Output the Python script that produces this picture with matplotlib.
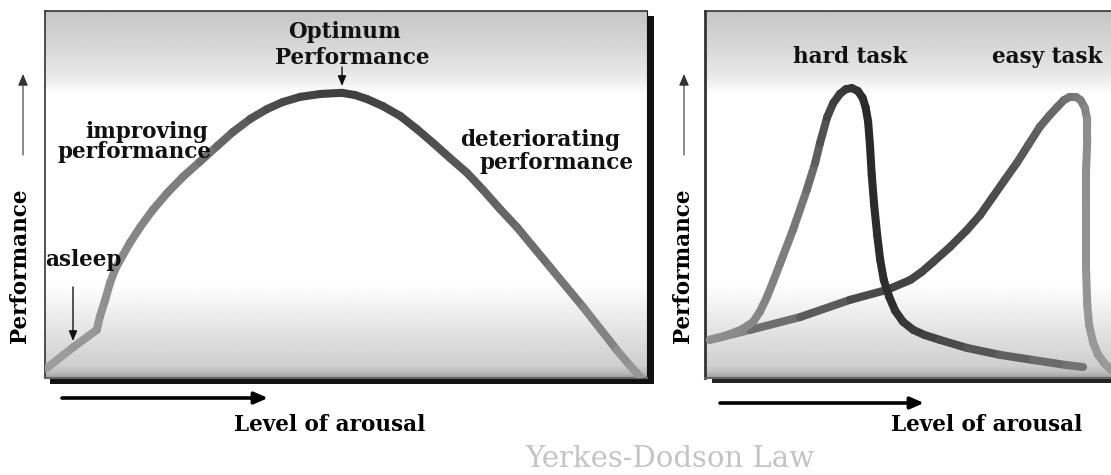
import numpy as np
import matplotlib.pyplot as plt
from matplotlib.collections import LineCollection
from matplotlib.patches import Rectangle, FancyArrowPatch

W, H = 1111, 475

# left panel: inverted-U (arousal 0-100 vs performance 0-100)
inv_u_x = [0.3, 4.7, 8.6, 9.1, 10.0, 10.8, 11.6, 12.5, 14.1, 15.8, 17.9, 20.3, 22.9,
           25.7, 28.6, 31.2, 34.1, 36.9, 39.5, 42.4, 45.8, 49.3, 51.5, 53.5, 56.1,
           59.0, 61.8, 64.5, 67.3, 70.1, 72.8, 75.6, 78.4, 83.9, 89.4, 95.0, 97.1, 98.8]
inv_u_y = [2.7, 8.4, 13.1, 16.6, 21.3, 25.9, 29.4, 32.2, 36.8, 41.1, 45.8, 50.4, 54.8,
           58.9, 63.2, 67.0, 70.6, 73.3, 75.2, 76.6, 77.4, 77.7, 77.1, 76.0, 74.1,
           71.4, 67.8, 64.0, 59.9, 55.9, 51.2, 46.0, 41.1, 30.2, 19.3, 7.6, 3.5, 0.5]

# right panel: hard task / easy task
hard_x = [0.8, 2.8, 4.7, 6.3, 8.0, 9.1, 10.3, 11.3, 12.5, 14.6, 16.9, 18.3, 19.1, 20.3,
          21.3, 22.4, 23.4, 24.4, 25.4, 26.2, 26.7, 27.1, 27.4, 27.7, 28.1, 28.6, 29.1,
          29.7, 30.6, 31.6, 32.9, 34.6, 36.5, 39.0, 43.5, 49.0, 54.5, 60.1, 62.8]
hard_y = [10.4, 11.2, 12.3, 13.4, 15.3, 18.0, 22.1, 26.2, 31.3, 40.3, 51.2, 58.6, 64.0,
          71.1, 74.9, 77.4, 78.7, 79.0, 78.2, 76.3, 73.6, 69.8, 63.5, 55.3, 47.1, 39.0,
          32.2, 26.7, 22.1, 18.3, 15.3, 13.1, 11.7, 10.4, 8.2, 6.3, 4.9, 3.5, 3.0]
easy_x = [0.8, 7.5, 15.8, 24.1, 30.2, 34.1, 36.0, 37.9, 40.7, 43.5, 45.7, 47.8, 49.8,
          51.8, 53.7, 55.6, 57.3, 58.5, 59.6, 60.6, 61.6, 62.4, 63.1, 63.5, 63.5, 63.3,
          63.3, 63.3, 63.5, 63.8, 64.5, 65.3, 66.3, 67.4]
easy_y = [10.4, 13.1, 16.6, 21.3, 24.0, 26.7, 28.9, 31.6, 35.7, 40.3, 44.4, 49.3, 54.0,
          58.6, 63.5, 68.4, 71.7, 73.8, 75.7, 76.6, 76.6, 75.7, 73.6, 70.3, 64.9, 56.7,
          47.7, 29.4, 19.9, 14.4, 9.5, 6.3, 4.1, 2.2]

SERIF = 'DejaVu Serif'


def fx(x):
    return x / W


def fy(y):
    return 1 - y / H


def backdrop(ax):
    rows = np.linspace(11, 378, 400)
    stops = [11, 25, 50, 75, 95, 285, 310, 340, 366, 373, 378]
    vals = [0.77, 0.80, 0.85, 0.91, 1.0, 1.0, 0.94, 0.87, 0.81, 0.74, 0.62]
    g = np.interp(rows, stops, vals)
    ax.imshow(g[:, None], extent=[0, 100, 0, 100], aspect='auto', cmap='gray',
              vmin=0, vmax=1, zorder=0, interpolation='bilinear')


def graded(ax, xs, ys, t_stops, g_stops):
    pts = np.column_stack([xs, ys])
    d = np.hypot(np.diff(pts[:, 0]) * 6.02, np.diff(pts[:, 1]) * 3.67)
    t = np.concatenate([[0], np.cumsum(d)]) / d.sum()
    shade = np.interp((t[:-1] + t[1:]) / 2, t_stops, g_stops)
    segs = np.stack([pts[:-1], pts[1:]], axis=1)
    lc = LineCollection(segs, colors=[(s, s, s) for s in shade], linewidths=5.8,
                        capstyle='round', joinstyle='round', zorder=3)
    ax.add_collection(lc)


def arrow(x0, y0, x1, y1, lw, color, hl, hw):
    fig.add_artist(FancyArrowPatch((fx(x0), fy(y0)), (fx(x1), fy(y1)),
                                   transform=fig.transFigure,
                                   arrowstyle=f'-|>,head_length={hl},head_width={hw}',
                                   mutation_scale=10, lw=lw, color=color,
                                   shrinkA=0, shrinkB=0))


fig = plt.figure(figsize=(W / 100, H / 100), dpi=100)
fig.patch.set_facecolor('white')

ax1 = fig.add_axes([fx(45), fy(378), 602 / W, 367 / H])
ax2 = fig.add_axes([fx(705), fy(378), 602 / W, 367 / H])

# drop shadows
fig.add_artist(Rectangle((fx(50), fy(384)), 604 / W, 368 / H, transform=fig.transFigure,
                         facecolor='#111111', edgecolor='none', zorder=-1))
fig.add_artist(Rectangle((fx(712), fy(383)), 600 / W, 368 / H, transform=fig.transFigure,
                         facecolor='#222222', edgecolor='none', zorder=-1))

for ax in (ax1, ax2):
    backdrop(ax)
    ax.set_xlim(0, 100)
    ax.set_ylim(0, 100)
    ax.set_xticks([])
    ax.set_yticks([])
    for side in ('top', 'left'):
        ax.spines[side].set_color('#333333')
        ax.spines[side].set_linewidth(1.2)
    ax.spines['bottom'].set_color('#666666')
    ax.spines['bottom'].set_linewidth(1.5)
    ax.spines['right'].set_color('#111111')
    ax.set_ylabel('Performance', family=SERIF, weight='bold', fontsize=15.5)
    ax.set_xlabel('Level of arousal', family=SERIF, weight='bold', fontsize=15.5)
    ax.xaxis.label.set_va('center')
    ax.yaxis.label.set_va('center')
ax2.spines['left'].set_linewidth(2)

ax1.yaxis.set_label_coords(-0.042, 0.305)
ax1.xaxis.set_label_coords(0.472, -0.128)
ax2.yaxis.set_label_coords(-0.037, 0.305)
ax2.xaxis.set_label_coords(0.467, -0.128)

graded(ax1, inv_u_x, inv_u_y,
       [0, 0.08, 0.3, 0.42, 0.5, 0.62, 0.75, 0.9, 1.0],
       [0.62, 0.58, 0.48, 0.30, 0.24, 0.30, 0.40, 0.48, 0.60])
graded(ax2, easy_x, easy_y,
       [0, 0.1, 0.25, 0.45, 0.6, 0.66, 1.0],
       [0.56, 0.42, 0.26, 0.30, 0.42, 0.55, 0.60])
graded(ax2, hard_x, hard_y,
       [0, 0.25, 0.38, 0.45, 0.72, 0.85, 1.0],
       [0.56, 0.46, 0.26, 0.16, 0.18, 0.32, 0.46])

txt = dict(family=SERIF, weight='bold', fontsize=15.5, ha='center', va='center',
           color='#111111', zorder=5)
ax1.text(49.7, 94.3, 'Optimum', **txt)
ax1.text(51.0, 87.2, 'Performance', **txt)
ax1.text(16.9, 67.0, 'improving', **txt)
ax1.text(14.8, 61.6, 'performance', **txt)
ax1.text(82.2, 64.9, 'deteriorating', **txt)
ax1.text(85.0, 58.6, 'performance', **txt)
ax1.text(6.3, 32.2, 'asleep', **txt)
ax2.text(24.1, 87.5, 'hard task', **txt)
ax2.text(56.8, 87.5, 'easy task', **txt)

fig.text(fx(670), fy(467), 'Yerkes-Dodson Law', family=SERIF, fontsize=21,
         color='#c4c4c4', ha='center', va='baseline')

# axis direction arrows and pointers
arrow(23, 155, 23, 74, 0.8, '#333333', 0.7, 0.3)
arrow(684, 155, 684, 74, 0.8, '#333333', 0.7, 0.3)
arrow(62, 398, 268, 398, 2.6, '#000000', 0.8, 0.35)
arrow(720, 403, 924, 403, 2.6, '#000000', 0.8, 0.35)
arrow(342, 67, 342, 86, 1.0, '#111111', 0.6, 0.25)
arrow(73, 287, 73, 341, 1.0, '#111111', 0.6, 0.25)

fig.savefig('out.png', dpi=100)
